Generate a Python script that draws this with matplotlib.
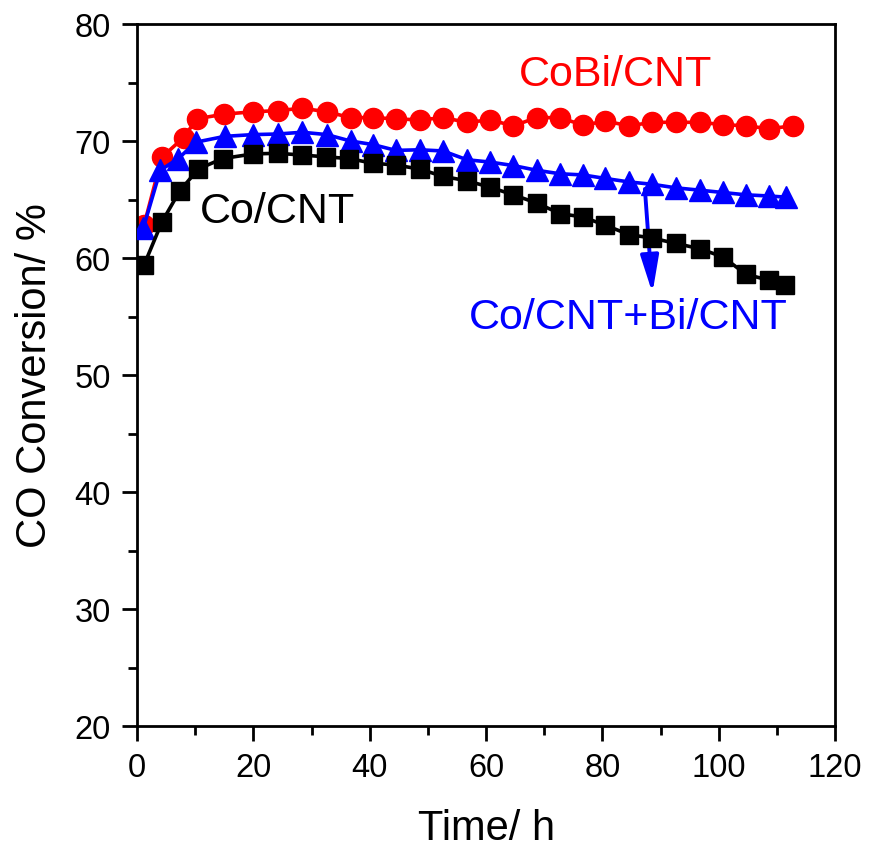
import matplotlib.pyplot as plt
from matplotlib.ticker import MultipleLocator

# Co/CNT (black squares)
t_co = [1.2, 4.3, 7.3, 10.5, 14.7, 20.0, 24.2, 28.4, 32.4, 36.5, 40.5, 44.5, 48.6, 52.6,
        56.7, 60.7, 64.7, 68.7, 72.7, 76.7, 80.5, 84.6, 88.6, 92.6, 96.7, 100.7, 104.7,
        108.7, 111.4]
co_cnt = [59.4, 63.1, 65.7, 67.6, 68.5, 68.9, 68.95, 68.8, 68.65, 68.5, 68.1, 67.95, 67.6,
          66.98, 66.6, 66.05, 65.4, 64.7, 63.8, 63.5, 62.8, 62.0, 61.7, 61.25, 60.8, 60.1,
          58.6, 58.1, 57.7]

# CoBi/CNT (red circles)
t_cobi = [1.2, 4.25, 8.0, 10.3, 15.0, 20.0, 24.2, 28.4, 32.6, 36.7, 40.5, 44.5, 48.6, 52.6,
          56.7, 60.7, 64.7, 68.7, 72.7, 76.7, 80.5, 84.6, 88.6, 92.6, 96.7, 100.7, 104.7,
          108.7, 112.7]
cobi_cnt = [62.8, 68.6, 70.3, 71.9, 72.3, 72.5, 72.6, 72.8, 72.5, 72.0, 72.0, 71.9, 71.8,
            72.0, 71.6, 71.8, 71.3, 72.0, 72.0, 71.35, 71.7, 71.3, 71.6, 71.6, 71.6, 71.4,
            71.3, 71.05, 71.3]

# Co/CNT+Bi/CNT (blue triangles)
t_mix = [1.1, 4.0, 7.1, 10.1, 15.1, 20.0, 24.2, 28.4, 32.6, 36.7, 40.5, 44.5, 48.6, 52.6,
         56.7, 60.7, 64.7, 68.7, 72.7, 76.7, 80.5, 84.6, 88.6, 92.6, 96.7, 100.7, 104.7,
         108.7, 111.6]
mix_cnt = [62.6, 67.5, 68.5, 69.9, 70.4, 70.55, 70.6, 70.75, 70.55, 70.0, 69.7, 69.2, 69.25,
           69.15, 68.4, 68.2, 67.9, 67.5, 67.2, 67.1, 66.8, 66.5, 66.3, 66.0, 65.8, 65.6,
           65.4, 65.3, 65.2]

plt.rcParams['font.family'] = ['Liberation Sans', 'DejaVu Sans']

fig = plt.figure(figsize=(8.69, 8.54), dpi=100)
ax = fig.add_axes([0.1577, 0.1487, 0.8033, 0.822])

ax.plot(t_cobi, cobi_cnt, '-o', color='red', lw=2.6, ms=14.5, mec='red', zorder=2)
ax.plot(t_mix, mix_cnt, '-^', color='blue', lw=2.6, ms=15.5, mec='blue', zorder=3)
ax.plot(t_co, co_cnt, '-s', color='black', lw=2.6, ms=12.5, mec='black', zorder=4)

ax.set_xlim(0, 120)
ax.set_ylim(20, 80)
ax.xaxis.set_major_locator(MultipleLocator(20))
ax.xaxis.set_minor_locator(MultipleLocator(10))
ax.yaxis.set_major_locator(MultipleLocator(10))
ax.yaxis.set_minor_locator(MultipleLocator(5))
ax.tick_params(which='major', direction='out', length=11, width=2, labelsize=23.5, pad=8)
ax.tick_params(which='minor', direction='out', length=6.5, width=2)
for sp in ax.spines.values():
    sp.set_linewidth(2)

ax.set_xlabel('Time/ h', fontsize=30, labelpad=18)
ax.set_ylabel('CO Conversion/ %', fontsize=30, labelpad=14)

ax.text(82.3, 75.7, 'CoBi/CNT', color='red', fontsize=31, ha='center', va='center')
ax.text(24.2, 64.0, 'Co/CNT', color='black', fontsize=31, ha='center', va='center')
ax.text(84.4, 55.0, 'Co/CNT+Bi/CNT', color='blue', fontsize=31, ha='center', va='center')
ax.annotate('', xy=(88.6, 57.0), xytext=(87.3, 65.9),
            arrowprops=dict(arrowstyle='-|>,head_length=0.9,head_width=0.22', color='blue',
                            lw=2.8, mutation_scale=25, shrinkA=0, shrinkB=0))

fig.savefig('out.png', dpi=100)
